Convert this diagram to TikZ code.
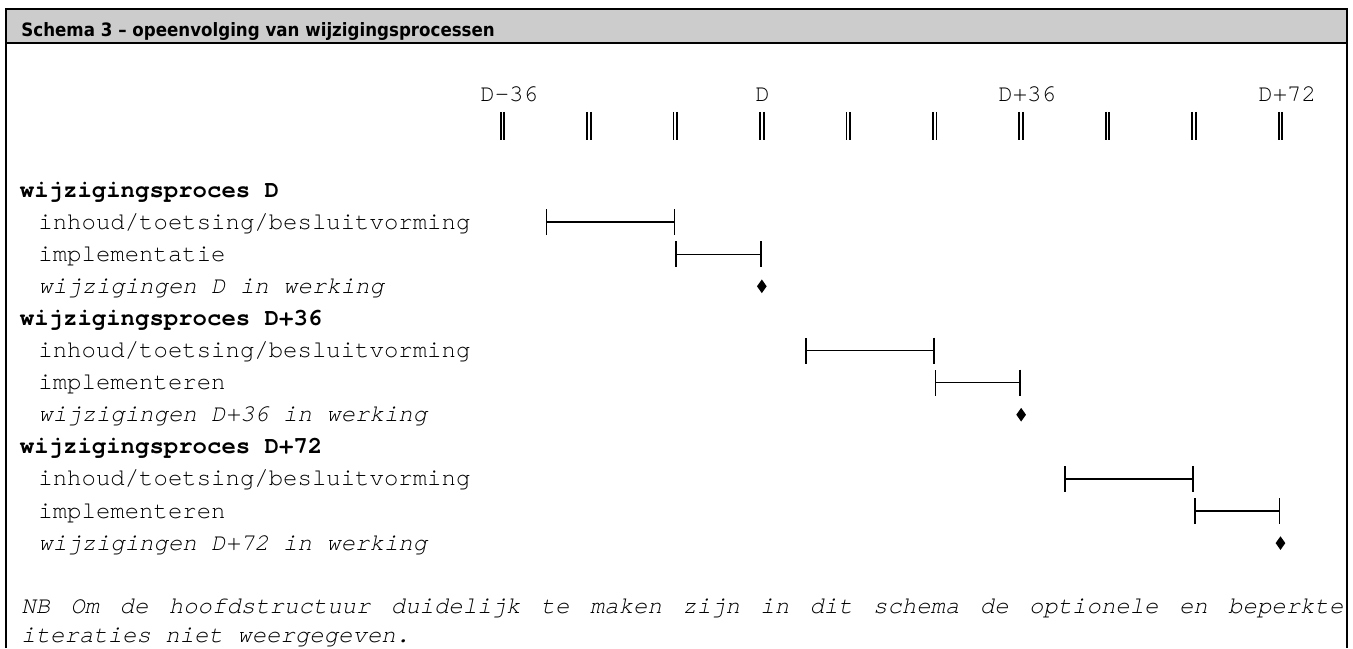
\documentclass[tikz,border=0pt]{standalone}
\usepackage{fontspec}
\setmonofont{texgyrecursor}[Extension=.otf, UprightFont=*-regular, BoldFont=*-bold,
  ItalicFont=*-italic, BoldItalicFont=*-bolditalic]
\newfontfamily\headfont{DejaVu Sans}[FakeStretch=0.906]
\usetikzlibrary{shapes.geometric,arrows.meta}
\definecolor{headgray}{RGB}{204,204,204}

\begin{document}
\begin{tikzpicture}[x=0.5pt,y=-0.5pt,
  lbl/.style={inner sep=0pt, anchor=base west, font=\ttfamily\fontsize{12}{14}\selectfont},
  grp/.style={lbl, font=\ttfamily\bfseries\fontsize{12}{14}\selectfont},
  ev/.style={lbl, font=\ttfamily\itshape\fontsize{12}{14}\selectfont},
  tickline/.style={line width=0.9pt},
  span/.style={line width=0.65pt, {Bar[width=13pt,line width=0.85pt]}-{Bar[width=13pt,line width=0.85pt]}},
  milestone/.style={diamond, fill=black, inner sep=0pt, minimum width=5pt, minimum height=7pt}
]
\useasboundingbox (0,0) rectangle (1353,648);

% frame with grey title band
\fill[headgray] (5.8,8.8) rectangle (1347,42.7);
\draw[line width=0.85pt] (5.8,648) -- (5.8,8.8) -- (1347,8.8) -- (1347,648);
\draw[line width=1pt] (5.8,42.7) -- (1347,42.7);
\node[anchor=base west, inner sep=0pt, font=\headfont\bfseries\fontsize{9.2}{11}\selectfont]
  (title) at (21,36.5) {Schema 3 – opeenvolging van wijzigingsprocessen};

% time axis: ten double ticks, 86.44 units apart
\foreach \k in {0,...,9} {
  \coordinate (t\k) at ({502.5+86.44*\k},126);
  \draw[tickline] ([xshift=-0.9pt,yshift=7.1pt]t\k) -- ([xshift=-0.9pt,yshift=-7.1pt]t\k);
  \draw[tickline] ([xshift=0.9pt,yshift=7.1pt]t\k) -- ([xshift=0.9pt,yshift=-7.1pt]t\k);
}
\node[lbl] (lm36) at (480,101.7) {D-36};
\node[lbl] (l0)   at (755,101.7) {D};
\node[lbl] (lp36) at (998,101.7) {D+36};
\node[lbl] (lp72) at (1258,101.7) {D+72};

% row labels
\node[grp] (g1)  at (19.5,197)   {wijzigingsproces D};
\node[lbl] (g1a) at (38,229.1)   {inhoud/toetsing/besluitvorming};
\node[lbl] (g1b) at (38,261.2)   {implementatie};
\node[ev]  (g1c) at (38,293.3)   {wijzigingen D in werking};
\node[grp] (g2)  at (19.5,325.4) {wijzigingsproces D+36};
\node[lbl] (g2a) at (38,357.5)   {inhoud/toetsing/besluitvorming};
\node[lbl] (g2b) at (38,389.6)   {implementeren};
\node[ev]  (g2c) at (38,421.7)   {wijzigingen D+36 in werking};
\node[grp] (g3)  at (19.5,453.8) {wijzigingsproces D+72};
\node[lbl] (g3a) at (38,485.9)   {inhoud/toetsing/besluitvorming};
\node[lbl] (g3b) at (38,518.0)   {implementeren};
\node[ev]  (g3c) at (38,550.1)   {wijzigingen D+72 in werking};

% phase bars and milestones
\coordinate (a1) at ({502.5+86.44*0.5},222.1);
\coordinate (a2) at ({502.5+86.44*2},222.1);
\coordinate (b1) at ({502.5+86.44*2},254.2);
\coordinate (b2) at ({502.5+86.44*3},254.2);
\draw[span] (a1) -- (a2);
\draw[span] (b1) -- (b2);
\node[milestone] (m1) at ({502.5+86.44*3},286.3) {};

\coordinate (c1) at ({502.5+86.44*3.5},350.5);
\coordinate (c2) at ({502.5+86.44*5},350.5);
\coordinate (d1) at ({502.5+86.44*5},382.6);
\coordinate (d2) at ({502.5+86.44*6},382.6);
\draw[span] (c1) -- (c2);
\draw[span] (d1) -- (d2);
\node[milestone] (m2) at ({502.5+86.44*6},414.7) {};

\coordinate (e1) at ({502.5+86.44*6.5},478.9);
\coordinate (e2) at ({502.5+86.44*8},478.9);
\coordinate (f1) at ({502.5+86.44*8},511.0);
\coordinate (f2) at ({502.5+86.44*9},511.0);
\draw[span] (e1) -- (e2);
\draw[span] (f1) -- (f2);
\node[milestone] (m3) at ({502.5+86.44*9},543.1) {};

% footnote
\node[inner sep=0pt, anchor=base west, text width=661pt, align=justify,
      font=\ttfamily\itshape\fontsize{12}{14.5}\selectfont] (nb) at (21,613)
  {\spaceskip=7.2pt plus 12pt\relax\hyphenpenalty=10000
   NB Om de hoofdstructuur duidelijk te maken zijn in dit schema de optionele en beperkte\linebreak
   iteraties niet weergegeven.};
\end{tikzpicture}
\end{document}
